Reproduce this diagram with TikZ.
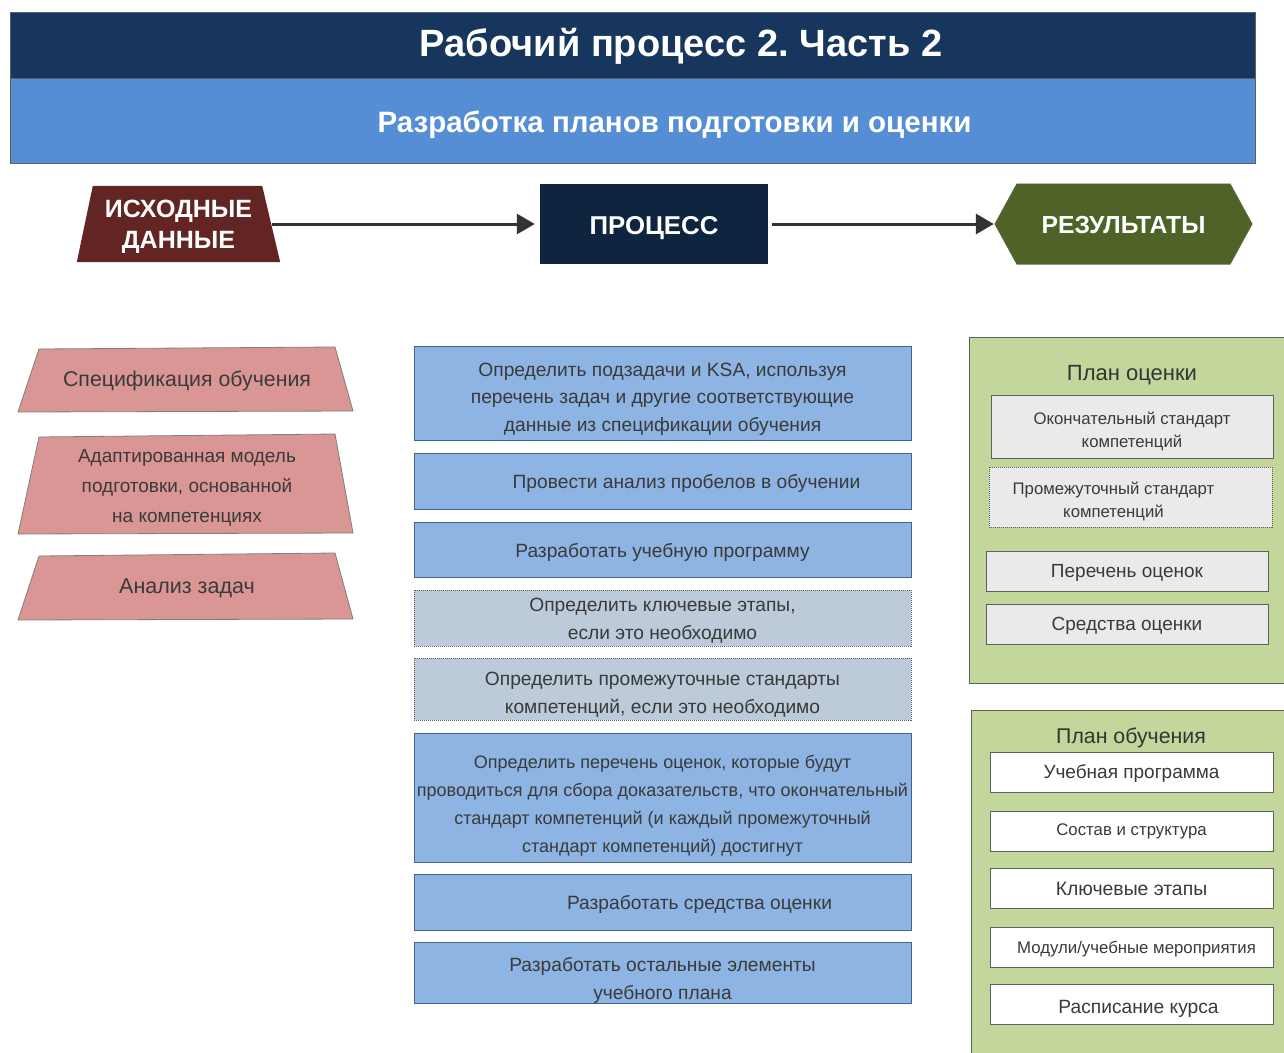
\documentclass[tikz,border=0pt]{standalone}
\usepackage{fontspec}
\setmainfont{Liberation Sans}
\usetikzlibrary{arrows.meta,calc}
\frenchspacing
\definecolor{hdark}{HTML}{17365D}
\definecolor{hlight}{HTML}{558ED5}
\definecolor{maroonf}{HTML}{632523}
\definecolor{navyf}{HTML}{0F243E}
\definecolor{olivef}{HTML}{4F6228}
\definecolor{pinkf}{HTML}{D99694}
\definecolor{bluef}{HTML}{8DB4E2}
\definecolor{bluegrey}{HTML}{BCCAD9}
\definecolor{greenp}{HTML}{C3D69B}
\definecolor{greyb}{HTML}{EAEAEA}
\definecolor{txt}{HTML}{3A3A3A}
\definecolor{bord}{HTML}{5F5F5F}
\definecolor{mbord}{HTML}{41648F}
\definecolor{arrowc}{HTML}{333333}
% lowered text block: #1 shift, #2 lines
\newcommand\lowtx[2]{\raisebox{-#1pt}[\height][\depth]{\begin{tabular}{@{}c@{}}#2\end{tabular}}}
\begin{document}
\begin{tikzpicture}[x=1pt,y=-1pt,
  band/.style={inner sep=0, draw=bord, line width=0.8pt},
  whitebold/.style={text=white, font=\bfseries\fontsize{#1}{#1}\selectfont},
  ghost/.style={inner sep=0, align=center},
  conn/.style={draw=arrowc, line width=3pt, -{Triangle[length=18pt,width=20pt]}},
  pinkshape/.style={fill=pinkf, draw=bord!80, line width=0.8pt},
  mstep/.style={draw=mbord, line width=1pt, fill=bluef, text=txt, minimum width=497, minimum height=#1, align=center, inner sep=0, font=\fontsize{19.2}{27.5}\selectfont},
  dstep/.style={mstep=#1, draw=bord, fill=bluegrey, dash pattern=on 1pt off 1pt},
  panel/.style={draw=bord, line width=1pt, fill=greenp, inner sep=0},
  gbox/.style={draw=bord, line width=1pt, fill=greyb, text=txt, align=center, inner sep=0, minimum width=282, minimum height=#1},
  wbox/.style={draw=bord, line width=1pt, fill=white, text=txt, align=center, inner sep=0, minimum width=283, minimum height=40},
  ptitle/.style={text=txt!90!black, inner sep=0}
]
\path[use as bounding box] (0,0) rectangle (1284,1052);

% header
\node[band, fill=hdark, minimum width=1245, minimum height=66] (hbar1) at (632.5,45) {};
\node[band, fill=hlight, minimum width=1245, minimum height=85] (hbar2) at (632.5,120.5) {};
\node[whitebold=38, inner sep=0] (title) at (681,43) {\lowtx{5}{Рабочий процесс 2. Часть 2}};
\node[whitebold=29.5, inner sep=0] (subtitle) at (674.5,122) {\lowtx{4}{Разработка планов подготовки и оценки}};

% top row
\node[ghost, minimum width=203, minimum height=76] (src) at (178.5,224) {};
\fill[maroonf] ($(src.north west)+(16,0)$) -- ($(src.north east)+(-18,0)$) -- (src.south east) -- (src.south west) -- cycle;
\node[ghost, text=white, font=\bfseries\fontsize{25}{31}\selectfont] (srctext) at (src.center) {\lowtx{3}{ИСХОДНЫЕ\\ДАННЫЕ}};
\coordinate (srcE) at (272,224);

\node[fill=navyf, minimum width=228, minimum height=80, inner sep=0, whitebold=25.8] (proc) at (654,224) {\lowtx{5}{ПРОЦЕСС}};

\node[ghost, minimum width=257, minimum height=80] (res) at (1123.5,224) {};
\fill[olivef, draw=olivef!70!gray, line width=0.6pt] (res.west) -- ($(res.north west)+(22,0)$) -- ($(res.north east)+(-22,0)$) -- (res.east) -- ($(res.south east)+(-22,0)$) -- ($(res.south west)+(22,0)$) -- cycle;
\node[ghost, whitebold=24.7] (restext) at (res.center) {\lowtx{5}{РЕЗУЛЬТАТЫ}};

\draw[conn, shorten >=5pt] (srcE) -- (proc.west);
\draw[conn, shorten <=4pt, shorten >=1pt] (proc.east) -- (res.west);

% left inputs
\draw[pinkshape] (39,349) -- (335,347) -- (353,411) -- (18,412) -- cycle;
\node[text=txt, inner sep=0, font=\fontsize{21.3}{26}\selectfont] (in1) at (187,379) {\lowtx{2}{Спецификация обучения}};
\draw[pinkshape] (39,437) -- (335,434) -- (353,533) -- (18,534) -- cycle;
\node[text=txt, inner sep=0, font=\fontsize{19}{30}\selectfont] (in2) at (187,485) {\lowtx{1}{Адаптированная модель\\подготовки, основанной\\на компетенциях}};
\draw[pinkshape] (39,556) -- (335,553) -- (353,619) -- (18,620) -- cycle;
\node[text=txt, inner sep=0, font=\fontsize{21.5}{26}\selectfont] (in3) at (187,586) {\lowtx{2}{Анализ задач}};

% process steps
\node[mstep=94] (p1) at (662.5,393) {\lowtx{5}{Определить подзадачи и KSA, используя\\перечень задач и другие соответствующие\\данные из спецификации обучения}};
\node[mstep=56] (p2) at (662.5,481) {\lowtx{2}{\hspace*{48pt}Провести анализ пробелов в обучении}};
\node[mstep=55] (p3) at (662.5,549.5) {\lowtx{2}{Разработать учебную программу}};
\node[dstep=56] (p4) at (662.5,618) {\lowtx{2}{Определить ключевые этапы,\\если это необходимо}};
\node[dstep=62] (p5) at (662.5,689) {\lowtx{5}{Определить промежуточные стандарты\\компетенций, если это необходимо}};
\node[mstep=129, font=\fontsize{18}{28}\selectfont] (p6) at (662.5,797.5) {\lowtx{7}{Определить перечень оценок, которые будут\\проводиться для сбора доказательств, что окончательный\\стандарт компетенций (и каждый промежуточный\\стандарт компетенций) достигнут}};
\node[mstep=56] (p7) at (662.5,902) {\lowtx{2}{\hspace*{74pt}Разработать средства оценки}};
\node[mstep=61] (p8) at (662.5,972.5) {\lowtx{7.5}{Разработать остальные элементы\\учебного плана}};

% result panels
\node[panel, minimum width=326, minimum height=346] (pan1) at (1132,510) {};
\node[ptitle, font=\fontsize{22}{26}\selectfont] (pan1t) at (1132,373) {\lowtx{2}{План оценки}};
\node[gbox=63, font=\fontsize{16.75}{23}\selectfont] (r1) at (1132,426.5) {\lowtx{5}{Окончательный стандарт\\компетенций}};
\node[gbox=60, draw=bord, dash pattern=on 1pt off 1pt, font=\fontsize{16.75}{23}\selectfont, minimum width=283] (r2) at (1130.5,497) {\lowtx{4}{Промежуточный стандарт\hspace*{34pt}\\компетенций\hspace*{34pt}}};
\node[gbox=40, font=\fontsize{19}{23}\selectfont] (r3) at (1127,571) {\lowtx{2}{Перечень оценок}};
\node[gbox=40, font=\fontsize{19}{23}\selectfont] (r4) at (1127,624) {\lowtx{2}{Средства оценки}};

\node[panel, minimum width=324, minimum height=350] (pan2) at (1133,885) {};
\node[ptitle, font=\fontsize{21.3}{26}\selectfont] (pan2t) at (1131,735) {\lowtx{3}{План обучения}};
\node[wbox, font=\fontsize{19}{23}\selectfont] (t1) at (1131.5,772) {\lowtx{2}{Учебная программа}};
\node[wbox, font=\fontsize{16.8}{23}\selectfont] (t2) at (1131.5,831) {\lowtx{0}{Состав и структура}};
\node[wbox, font=\fontsize{19.4}{23}\selectfont] (t3) at (1131.5,888) {\lowtx{3}{Ключевые этапы}};
\node[wbox, font=\fontsize{16.8}{23}\selectfont] (t4) at (1131.5,947) {\lowtx{2}{\hspace*{10pt}Модули/учебные мероприятия}};
\node[wbox, font=\fontsize{19.2}{23}\selectfont] (t5) at (1131.5,1004) {\lowtx{5}{\hspace*{14pt}Расписание курса}};
\end{tikzpicture}
\end{document}
